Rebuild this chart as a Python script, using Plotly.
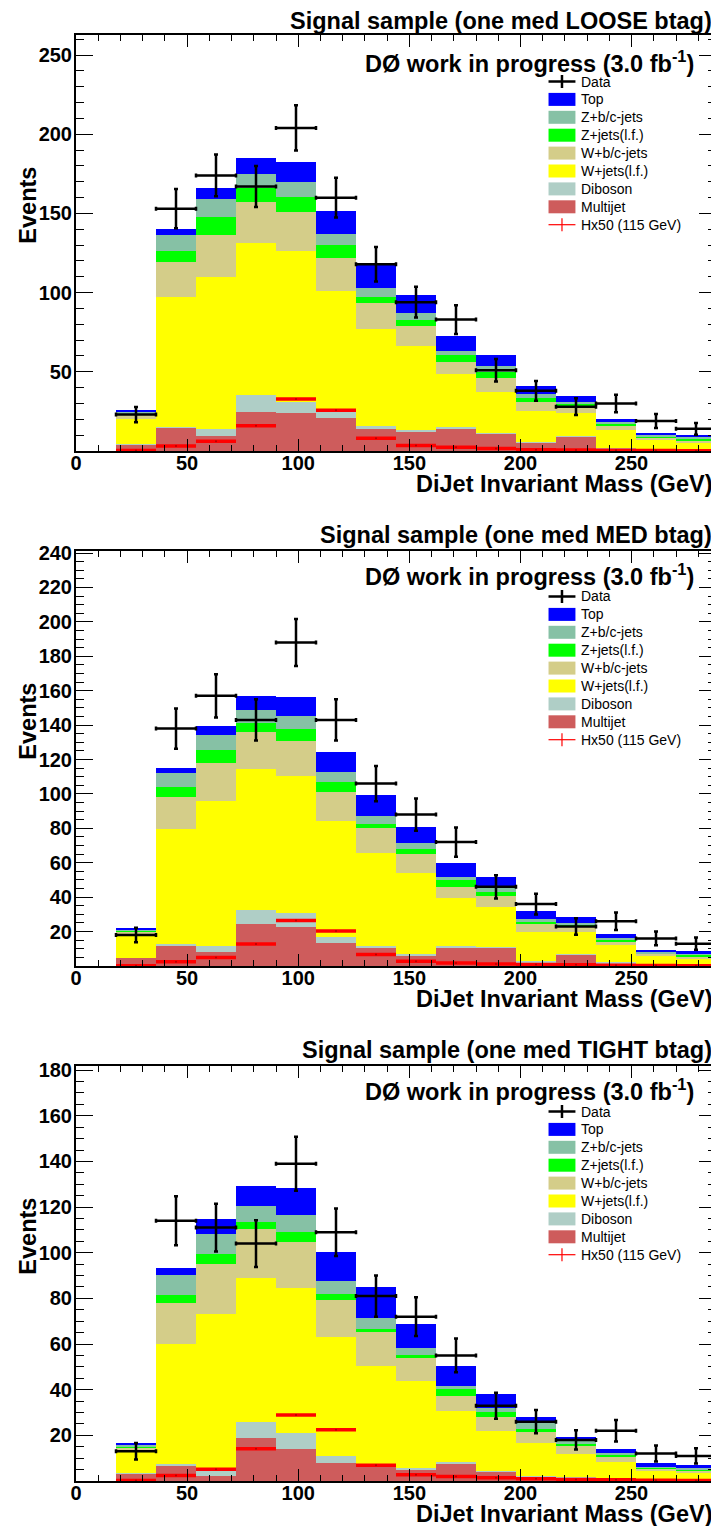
"""Stacked DiJet invariant-mass histograms for three b-tag working points."""

import plotly.graph_objects as go
from plotly.subplots import make_subplots

# Bin centres (GeV) of the 18 GeV wide bins
MASS = [27, 45, 63, 81, 99, 117, 135, 153, 171, 189, 207, 225, 243, 261, 279]
BIN_WIDTH = 18

# ---- LOOSE b-tag ----
LOOSE_MULTIJET = [4.4, 14.7, 9.7, 24.9, 24.3, 21.1, 14.1, 12.2, 14.4, 11.3, 5.2, 9.2, 1.7, 0.8, 0.8]
LOOSE_DIBOSON = [0.2, 0.7, 4.2, 10.5, 6.9, 3.4, 1.7, 1.1, 1.0, 0.3, 0.3, 0.3, 0.3, 0.3, 0.3]
LOOSE_WLF = [15.4, 81.6, 95.8, 96.2, 94.9, 76.3, 61.2, 52.7, 33.1, 25.9, 19.8, 14.8, 11.0, 5.8, 3.7]
LOOSE_WBC = [2.8, 22.2, 27.0, 25.6, 25.0, 21.1, 16.7, 13.1, 8.0, 8.5, 5.5, 3.8, 2.8, 1.5, 1.7]
LOOSE_ZLF = [0.9, 7.4, 11.0, 8.6, 9.2, 8.0, 3.3, 3.8, 4.3, 4.2, 2.9, 1.6, 1.4, 0.7, 1.1]
LOOSE_ZBC = [1.0, 10.1, 11.2, 9.3, 9.3, 7.4, 6.0, 4.2, 2.1, 3.6, 2.4, 1.5, 1.1, 1.0, 1.0]
LOOSE_TOP = [1.2, 3.2, 6.9, 9.7, 13.1, 14.4, 15.8, 11.6, 9.9, 7.0, 5.0, 3.8, 2.1, 1.5, 1.5]
LOOSE_DATA = [23, 153, 174, 167, 204, 160, 118, 94, 83, 51, 38, 28, 30, 19, 14]
LOOSE_ERR = [4.8, 12.4, 13.2, 12.9, 14.3, 12.6, 10.9, 9.7, 9.1, 7.1, 6.2, 5.3, 5.5, 4.4, 3.7]
LOOSE_HIGGS = [0.3, 3.2, 6.1, 16.0, 32.9, 25.7, 8.0, 3.4, 2.3, 1.5, 0.8, 0.6, 0.4, 0.3, 0.2]

# ---- MED b-tag ----
MED_MULTIJET = [4.7, 12.0, 8.1, 24.4, 22.5, 13.2, 10.3, 6.0, 10.9, 10.6, 2.3, 6.9, 1.6, 0.6, 0.6]
MED_DIBOSON = [0.1, 0.8, 3.5, 8.2, 8.1, 3.9, 1.5, 1.0, 0.9, 0.6, 0.6, 0.3, 0.5, 0.4, 0.6]
MED_WLF = [13.5, 66.9, 84.3, 81.9, 79.9, 67.2, 53.7, 47.3, 27.9, 22.9, 16.9, 12.7, 10.1, 4.8, 3.3]
MED_WBC = [1.5, 18.4, 21.9, 21.7, 20.3, 16.9, 14.7, 10.8, 6.0, 6.8, 4.4, 3.4, 2.2, 1.2, 0.9]
MED_ZLF = [0.6, 5.8, 7.8, 4.9, 7.0, 5.8, 2.5, 2.9, 4.3, 2.3, 1.6, 1.1, 0.9, 0.4, 1.2]
MED_ZBC = [0.9, 8.5, 8.5, 7.7, 7.7, 5.6, 4.7, 3.3, 1.9, 2.0, 1.7, 0.8, 1.2, 0.7, 0.8]
MED_TOP = [0.6, 2.5, 5.6, 8.2, 10.7, 11.8, 12.2, 9.3, 7.8, 6.4, 4.5, 3.1, 1.9, 1.2, 1.1]
MED_DATA = [18, 138, 157, 143, 188, 143, 106, 88, 72, 46, 36, 23, 26, 16, 13]
MED_ERR = [4.2, 11.7, 12.5, 12.0, 13.7, 12.0, 10.3, 9.4, 8.5, 6.8, 6.0, 4.8, 5.1, 4.0, 3.6]
MED_HIGGS = [0.2, 2.5, 5.0, 12.8, 26.4, 20.3, 6.7, 2.7, 1.8, 1.2, 0.9, 0.7, 0.5, 0.3, 0.2]

# ---- TIGHT b-tag ----
TIGHT_MULTIJET = [3.4, 6.5, 2.4, 19.0, 14.1, 7.8, 6.8, 4.9, 7.8, 4.3, 2.0, 1.2, 0.7, 0.3, 0.3]
TIGHT_DIBOSON = [0.1, 1.0, 2.2, 7.0, 6.8, 3.3, 0.7, 0.9, 0.7, 0.3, 0.4, 0.5, 0.3, 0.2, 0.2]
TIGHT_WLF = [9.8, 52.7, 68.4, 63.0, 63.7, 52.0, 42.9, 38.1, 22.3, 17.5, 14.1, 10.2, 7.5, 4.1, 2.9]
TIGHT_WBC = [1.5, 17.7, 22.1, 21.4, 20.1, 16.0, 15.0, 10.2, 6.5, 6.1, 4.8, 3.6, 2.2, 0.7, 0.9]
TIGHT_ZLF = [0.3, 3.8, 4.4, 2.9, 4.3, 2.9, 1.2, 1.1, 3.2, 2.1, 1.5, 0.7, 0.9, 0.4, 0.9]
TIGHT_ZBC = [0.8, 8.5, 8.9, 7.0, 7.7, 5.6, 4.9, 3.2, 1.2, 1.5, 2.6, 1.5, 0.5, 0.6, 0.6]
TIGHT_TOP = [0.6, 3.0, 6.4, 8.9, 11.6, 12.6, 13.4, 10.5, 8.6, 6.3, 2.5, 1.7, 1.8, 1.5, 1.3]
TIGHT_DATA = [13, 114, 111, 104, 139, 109, 81, 72, 55, 33, 26, 18, 22, 12, 11]
TIGHT_ERR = [3.6, 10.7, 10.5, 10.2, 11.8, 10.4, 9.0, 8.5, 7.4, 5.7, 5.1, 4.2, 4.7, 3.5, 3.3]
TIGHT_HIGGS = [0.2, 2.4, 5.2, 14.1, 28.9, 22.5, 6.9, 2.7, 2.0, 1.4, 1.0, 0.7, 0.6, 0.3, 0.2]

PANEL_TAGS = ["LOOSE", "MED", "TIGHT"]
Y_MAX = [262.7, 241.2, 181.8]
Y_TICKS = [[50, 100, 150, 200, 250],
           [20, 40, 60, 80, 100, 120, 140, 160, 180, 200, 220, 240],
           [20, 40, 60, 80, 100, 120, 140, 160, 180]]
Y_MINOR = [10, 5, 5]

# stack order, bottom -> top: (label, colour)
COMPONENTS = [
    ("Multijet", "#CE5C5C"),
    ("Diboson", "#AFCEC6"),
    ("W+jets(l.f.)", "#FFFF00"),
    ("W+b/c-jets", "#D4CD89"),
    ("Z+jets(l.f.)", "#00FF00"),
    ("Z+b/c-jets", "#86C1A5"),
    ("Top", "#0000FF"),
]

PANELS = [
    ([LOOSE_MULTIJET, LOOSE_DIBOSON, LOOSE_WLF, LOOSE_WBC, LOOSE_ZLF, LOOSE_ZBC, LOOSE_TOP],
     LOOSE_DATA, LOOSE_ERR, LOOSE_HIGGS),
    ([MED_MULTIJET, MED_DIBOSON, MED_WLF, MED_WBC, MED_ZLF, MED_ZBC, MED_TOP],
     MED_DATA, MED_ERR, MED_HIGGS),
    ([TIGHT_MULTIJET, TIGHT_DIBOSON, TIGHT_WLF, TIGHT_WBC, TIGHT_ZLF, TIGHT_ZBC, TIGHT_TOP],
     TIGHT_DATA, TIGHT_ERR, TIGHT_HIGGS),
]

FONT = "Liberation Sans"
BIG = 23.5
# page has an 8px body margin, so the figure is drawn 8px in from the corner
PAGE_OFF = 8
W, H = 711, 1518
# frame rows on the page (top, bottom); frame spans x 76..718 on the page
FRAMES = [(35, 451), (551, 966), (1066, 1481)]
TITLE_DY = [14, 16, 16]      # panel title above frame top
LABEL_DY = [27, 24, 24]      # experiment label below frame top
LEGEND_DY = [46.5, 45.5, 45.5]
FRAME_L, FRAME_R = 76, 718
M_L, M_R = FRAME_L - PAGE_OFF, W - (FRAME_R - PAGE_OFF)
M_T = FRAMES[0][0] - PAGE_OFF
M_B = H - (FRAMES[2][1] - PAGE_OFF)
PLOT_W = W - M_L - M_R
PLOT_H = H - M_T - M_B


def px(p):
    """Page pixel column -> paper fraction."""
    return (p - FRAME_L) / PLOT_W


def py(p):
    """Page pixel row -> paper fraction."""
    return (FRAMES[2][1] - p) / PLOT_H


fig = make_subplots(rows=3, cols=1)
shapes = []

for i, (comps, data, err, higgs) in enumerate(PANELS):
    row = i + 1
    for (label, colour), vals in zip(COMPONENTS, comps):
        fig.add_trace(go.Bar(x=MASS, y=vals, width=BIN_WIDTH, name=label,
                             marker=dict(color=colour, line=dict(width=0)),
                             showlegend=False, hoverinfo="skip"),
                      row=row, col=1)
    # Higgs x50 signal, drawn as horizontal bin-wide segments
    fig.add_trace(go.Scatter(x=MASS, y=higgs, mode="markers", showlegend=False,
                             marker=dict(size=2, color="#B00000"),
                             error_x=dict(type="constant", value=BIN_WIDTH / 2,
                                          color="#FF0000", thickness=3.5, width=0)),
                  row=row, col=1)
    # data points with error bars
    fig.add_trace(go.Scatter(x=MASS, y=data, mode="markers", showlegend=False,
                             marker=dict(size=1, color="black"),
                             error_x=dict(type="constant", value=BIN_WIDTH / 2,
                                          color="black", thickness=2.5, width=2),
                             error_y=dict(type="data", array=err,
                                          color="black", thickness=2.5, width=2)),
                  row=row, col=1)

    top, bot = FRAMES[i]
    axis_common = dict(showline=True, linecolor="black", linewidth=2,
                       mirror="allticks", ticks="inside", tickcolor="black",
                       showgrid=False, zeroline=False,
                       tickfont=dict(family=FONT, size=20, color="black", weight="bold"))
    fig.update_xaxes(range=[0, 288], tickvals=[0, 50, 100, 150, 200, 250],
                     ticklen=12, tickwidth=1, ticklabelstandoff=-7,
                     minor=dict(dtick=10, tick0=0, ticklen=6, ticks="inside",
                                tickcolor="black", tickwidth=1),
                     **axis_common, row=row, col=1)
    fig.update_yaxes(range=[0, Y_MAX[i]], tickvals=Y_TICKS[i],
                     ticklen=17, tickwidth=1, ticklabelstandoff=-2,
                     minor=dict(dtick=Y_MINOR[i], tick0=0, ticklen=8, ticks="inside",
                                tickcolor="black", tickwidth=1),
                     domain=[py(bot), py(top)],
                     **axis_common, row=row, col=1)

    big = dict(family=FONT, size=BIG, color="black", weight="bold")
    # panel title
    fig.add_annotation(text=f"Signal sample (one med {PANEL_TAGS[i]} btag)",
                       xref="paper", yref="paper", x=px(716), y=py(top - TITLE_DY[i]),
                       xanchor="right", yanchor="middle", showarrow=False, font=big)
    # experiment label
    fig.add_annotation(text="DØ work in progress (3.0 fb<sup>-1</sup>)",
                       xref="paper", yref="paper", x=px(698), y=py(top + LABEL_DY[i]),
                       xanchor="right", yanchor="middle", showarrow=False, font=big)
    # x-axis title, right aligned
    fig.add_annotation(text="DiJet Invariant Mass (GeV)", xref="paper", yref="paper",
                       x=px(716), y=py(bot + 33), xanchor="right", yanchor="middle",
                       showarrow=False, font=big)
    # y-axis title
    fig.add_annotation(text="Events", xref="paper", yref="paper", textangle=-90,
                       x=px(27), y=py(top + 130), xanchor="center", yanchor="top",
                       showarrow=False, font=big)

    # legend (ROOT style): Data, stack top -> bottom, signal
    entries = [("Data", "data")] + [(lab, col) for lab, col in reversed(COMPONENTS)] \
        + [("Hx50 (115 GeV)", "signal")]
    for k, (label, kind) in enumerate(entries):
        yc = top + LEGEND_DY[i] + 17.9 * k
        fig.add_annotation(text=label, xref="paper", yref="paper", x=px(581), y=py(yc),
                           xanchor="left", yanchor="middle", showarrow=False,
                           font=dict(family=FONT, size=14, color="black"))
        if kind in ("data", "signal"):
            colour = "black" if kind == "data" else "#FF0000"
            lw = 2.5 if kind == "data" else 1.2
            shapes.append(dict(type="line", xref="paper", yref="paper",
                               x0=px(550), x1=px(577), y0=py(yc), y1=py(yc),
                               line=dict(color=colour, width=lw)))
            shapes.append(dict(type="line", xref="paper", yref="paper",
                               x0=px(563.5), x1=px(563.5), y0=py(yc - 6.5), y1=py(yc + 6.5),
                               line=dict(color=colour, width=lw)))
        else:
            shapes.append(dict(type="rect", xref="paper", yref="paper",
                               x0=px(550), x1=px(577), y0=py(yc + 6.5), y1=py(yc - 6.5),
                               fillcolor=kind, line=dict(width=0)))

fig.update_layout(width=W, height=H, barmode="stack", bargap=0, showlegend=False,
                  margin=dict(l=M_L, r=M_R, t=M_T, b=M_B), shapes=shapes,
                  plot_bgcolor="white", paper_bgcolor="white")

fig.write_html("out.html")
